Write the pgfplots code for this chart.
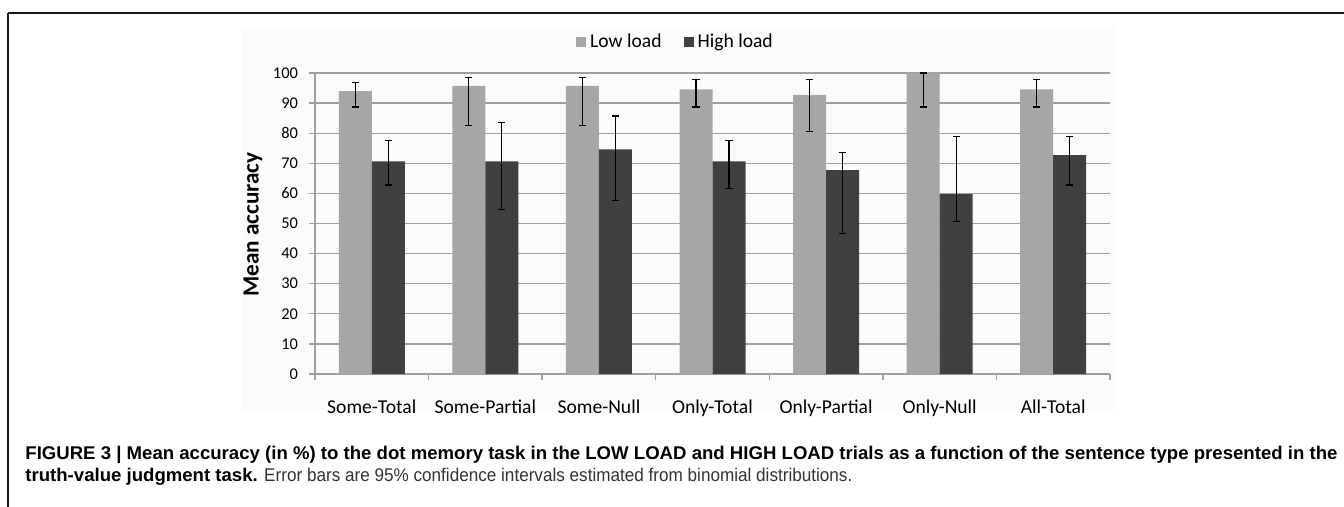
\documentclass[border=0pt]{standalone}
\usepackage{fontspec}
\usepackage{pgfplots}
\usepackage{pgfplotstable}
\usepackage{graphicx}
\pgfplotsset{compat=1.18}
\setmainfont{Carlito}
\newfontfamily\capfont{Liberation Sans}
\definecolor{lowc}{RGB}{166,166,166}
\definecolor{highc}{RGB}{64,64,64}
\definecolor{gridc}{RGB}{160,160,160}

\pgfplotstableread{
x y ep em
0 94.0 2.9 5.3
1 95.7 2.8 13.0
2 95.7 2.8 13.0
3 94.6 3.1 5.9
4 92.7 5.0 12.2
5 100.0 0.0 11.3
6 94.6 3.1 5.9
}\lowload
\pgfplotstableread{
x y ep em
0 70.6 7.1 7.8
1 70.6 12.9 15.9
2 74.6 11.1 17.0
3 70.6 7.1 8.9
4 67.7 5.9 21.0
5 59.8 19.0 9.0
6 72.7 6.1 9.9
}\highload

\newcommand\capone{FIGURE 3 | Mean accuracy (in \%) to the dot memory task in the LOW LOAD and HIGH LOAD trials as a function of the sentence type presented in the}
\newcommand\capfs{\capfont\fontsize{9.2}{10}\selectfont}
\newlength\capw
\newlength\capb
\begin{document}%
\settowidth\capw{\capfs\bfseries\capone}%
\settowidth\capb{\capfs\bfseries truth-value judgment task.}%
\pgfmathsetmacro\capratio{656/\capw}%
\pgfmathsetmacro\capbw{\capratio*\capb}%
\pgfmathsetmacro\caprw{426-12.5-\capbw-3.2}%
\begin{tikzpicture}
\useasboundingbox (0,0) rectangle (672pt,-253.5pt);
\fill[white] (0,0) rectangle (672pt,-253.5pt);
% chart background
\fill[black!1.5] (121pt,-14pt) rectangle (557.5pt,-205pt);
% frame
\draw[line width=1pt, black!90] (4pt,-6.5pt) -- (672pt,-6.5pt);
\draw[line width=1pt, black!90] (4pt,-6.5pt) -- (4pt,-253.5pt);
\begin{axis}[
  at={(157.5pt,-187pt)}, anchor=south west,
  scale only axis, width=397.5pt, height=150.5pt,
  xmin=-0.5, xmax=6.5, ymin=0, ymax=100,
  ybar=0pt, bar width=16.5pt,
  axis x line*=bottom, axis y line*=left,
  axis line style={gridc, line width=0.65pt},
  xtick={0,...,6},
  xticklabels={Some-Total,Some-Partial,Some-Null,Only-Total,Only-Partial,Only-Null,All-Total},
  minor xtick={-0.5,0.5,...,6.5},
  major x tick style={draw=none},
  ytick={0,10,...,100},
  /pgf/number format/assume math mode=true,
  ymajorgrids, grid style={gridc, line width=0.65pt},
  tick align=outside, major tick length=3pt, minor tick length=3pt,
  tick style={gridc, line width=0.65pt},
  minor x tick style={gridc, line width=0.65pt},
  xticklabel style={font=\fontsize{9.8}{11}\selectfont, yshift=-6.5pt},
  yticklabel style={font=\fontsize{8.2}{9}\selectfont, xshift=-2pt},
  legend style={at={(0.4547,1)}, anchor=center, yshift=15.5pt, draw=none, fill=none,
    font=\fontsize{9.8}{11}\selectfont, legend columns=2,
    /tikz/every even column/.append style={column sep=9pt}},
  legend cell align=left,
  error bars/error bar style={line width=0.55pt, black},
  error bars/error mark options={rotate=90, mark size=1.8pt, line width=0.55pt, black},
]
\addplot[fill=lowc, draw=none,
  legend image code/.code={\fill[lowc] (0pt,-2.5pt) rectangle (5pt,2.5pt);},
  error bars/.cd, y dir=both, y explicit]
  table[x=x, y=y, y error plus=ep, y error minus=em] {\lowload};
\addlegendentry{Low load}
\addplot[fill=highc, draw=none,
  legend image code/.code={\fill[highc] (0pt,-2.5pt) rectangle (5pt,2.5pt);},
  error bars/.cd, y dir=both, y explicit]
  table[x=x, y=y, y error plus=ep, y error minus=em] {\highload};
\addlegendentry{High load}
\end{axis}
\node[rotate=90, font=\fontsize{11.6}{13}\selectfont\bfseries] at (126.5pt,-112.25pt) {Mean accuracy};
\node[anchor=base west, inner sep=0pt] at (12.5pt,-229.5pt)
  {\resizebox{656pt}{\height}{\capfs\bfseries\capone}};
\node[anchor=base west, inner sep=0pt] at (12.5pt,-240.5pt)
  {\scalebox{\capratio}[1]{\capfs\bfseries truth-value judgment task.}};
\node[anchor=base west, inner sep=0pt, text=black!80] at ({12.5pt+\capbw pt+3.2pt},-240.5pt)
  {\resizebox{\caprw pt}{\height}{\capfs Error bars are 95\% confidence intervals estimated from binomial distributions.}};
\end{tikzpicture}%
\end{document}
